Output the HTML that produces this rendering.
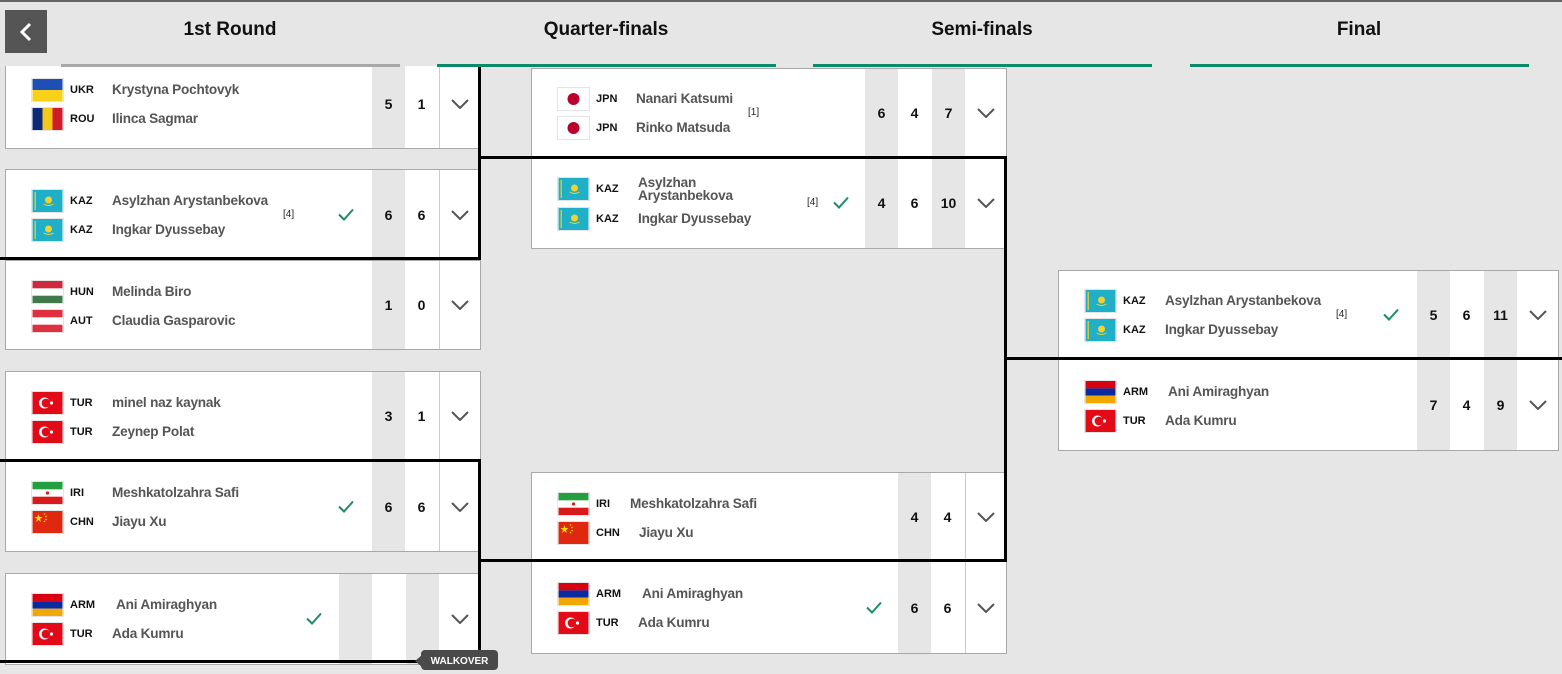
<!DOCTYPE html>
<html><head><meta charset="utf-8">
<style>
*{margin:0;padding:0;box-sizing:border-box}
body{width:1562px;height:665px;overflow:hidden;background:#e6e6e6;position:relative;font-family:"Liberation Sans",Arial,sans-serif}
.hdr{position:absolute;left:0;top:0;width:1562px;height:66px;background:#e6e6e6;border-top:2px solid #666;z-index:5}
.back{position:absolute;left:5px;top:8px;width:42px;height:43px;background:#555}
.t{position:absolute;top:17px;font-weight:bold;font-size:19px;color:#111;text-align:center;width:340px}
.bar{position:absolute;top:62px;height:3px;width:339px;background:#0b8a6c}
.card{position:absolute;background:#fff;border:1px solid #a8a8a8}
.r{position:absolute;left:0;height:22px;width:100%}
.f{position:absolute;left:26px;top:0;width:31px;height:22px;outline:1px solid #e4e4e4}
.c{position:absolute;left:64px;line-height:22px;font-size:11px;font-weight:bold;color:#111}
.n{position:absolute;left:106px;line-height:22px;font-size:13.6px;font-weight:bold;color:#555;letter-spacing:-0.2px;white-space:nowrap}
.s{position:absolute;top:0;bottom:0;width:33px;display:flex;align-items:center;justify-content:center;font-weight:bold;font-size:14px;color:#111}
.g{background:#e6e6e6}
.dv{position:absolute;top:0;bottom:0;width:1px;background:#ccc}
.ch{position:absolute;top:50%;margin-top:-5px;width:18px;height:10px}
.ck{position:absolute;top:50%;margin-top:-7px;width:16px;height:13px}
.sd{position:absolute;top:50%;margin-top:-7px;font-size:10px;color:#222;line-height:14px}
.h{position:absolute;background:#000;height:3px;z-index:3}
.v{position:absolute;background:#000;width:3px;z-index:3}
</style></head><body>

<svg width="0" height="0" style="position:absolute">
<defs>
<symbol id="ukr" viewBox="0 0 30 22"><rect width="30" height="11" fill="#1f4fb4"/><rect y="11" width="30" height="11" fill="#f7d117"/></symbol>
<symbol id="rou" viewBox="0 0 30 22"><rect width="10" height="22" fill="#0b2a7a"/><rect x="10" width="10" height="22" fill="#f6c61a"/><rect x="20" width="10" height="22" fill="#cf1b2b"/></symbol>
<symbol id="kaz" viewBox="0 0 30 22"><rect width="30" height="22" fill="#1fb0c8"/><rect x="2" y="2" width="1.5" height="18" fill="#d8c43a"/><circle cx="16" cy="10" r="3.5" fill="#f2d230"/><path d="M11 14 Q16 17 21 14" stroke="#f2d230" fill="none"/></symbol>
<symbol id="hun" viewBox="0 0 30 22"><rect width="30" height="7.4" fill="#cd2a3e"/><rect y="7.4" width="30" height="7.3" fill="#fff"/><rect y="14.7" width="30" height="7.3" fill="#3f7a4a"/></symbol>
<symbol id="aut" viewBox="0 0 30 22"><rect width="30" height="7.4" fill="#e0303f"/><rect y="7.4" width="30" height="7.3" fill="#fff"/><rect y="14.7" width="30" height="7.3" fill="#e0303f"/></symbol>
<symbol id="tur" viewBox="0 0 30 22"><rect width="30" height="22" fill="#e30a17"/><circle cx="12" cy="11" r="5.5" fill="#fff"/><circle cx="13.5" cy="11" r="4.4" fill="#e30a17"/><circle cx="19" cy="11" r="1.6" fill="#fff"/></symbol>
<symbol id="iri" viewBox="0 0 30 22"><rect width="30" height="7.4" fill="#239f40"/><rect y="7.4" width="30" height="7.3" fill="#fff"/><rect y="14.7" width="30" height="7.3" fill="#da1a1a"/><circle cx="15" cy="11" r="1.6" fill="#da1a1a"/></symbol>
<symbol id="chn" viewBox="0 0 30 22"><rect width="30" height="22" fill="#de2910"/><polygon points="6,3 7,6 10,6 7.5,8 8.5,11 6,9 3.5,11 4.5,8 2,6 5,6" fill="#ffde00"/><circle cx="12" cy="3" r=".8" fill="#ffde00"/><circle cx="13.5" cy="5.5" r=".8" fill="#ffde00"/><circle cx="13.5" cy="8.5" r=".8" fill="#ffde00"/><circle cx="12" cy="10.5" r=".8" fill="#ffde00"/></symbol>
<symbol id="arm" viewBox="0 0 30 22"><rect width="30" height="7.4" fill="#d90012"/><rect y="7.4" width="30" height="7.3" fill="#0a2aa0"/><rect y="14.7" width="30" height="7.3" fill="#f2a800"/></symbol>
<symbol id="jpn" viewBox="0 0 30 22"><rect width="30" height="22" fill="#fff"/><circle cx="15" cy="11" r="6" fill="#bc002d"/></symbol>
<symbol id="chev" viewBox="0 0 18 10"><polyline points="1,1 9,9 17,1" fill="none" stroke="#555" stroke-width="2"/></symbol>
<symbol id="chk" viewBox="0 0 16 13"><polyline points="1,6.5 6,11.5 15,1.5" fill="none" stroke="#1d8c6c" stroke-width="2"/></symbol>
</defs></svg>

<div class="hdr">
  <div class="back"><svg style="position:absolute;left:14px;top:12px" width="14" height="20" viewBox="0 0 14 20"><polyline points="11,2 3,10 11,18" fill="none" stroke="#fff" stroke-width="3"/></svg></div>
  <div class="t" style="left:60px">1st Round</div>
  <div class="t" style="left:436px">Quarter-finals</div>
  <div class="t" style="left:812px">Semi-finals</div>
  <div class="t" style="left:1189px">Final</div>
  <div class="bar" style="left:61px;background:#a8a8a8"></div>
  <div class="bar" style="left:437px"></div>
  <div class="bar" style="left:813px"></div>
  <div class="bar" style="left:1190px"></div>
</div>

<!-- Round 1 -->
<div class="card" style="left:5px;top:58px;width:476px;height:91px">
  <div class="r" style="top:20px"><svg class="f"><use href="#ukr"/></svg><b class="c">UKR</b><span class="n">Krystyna Pochtovyk</span></div>
  <div class="r" style="top:49px"><svg class="f"><use href="#rou"/></svg><b class="c">ROU</b><span class="n">Ilinca Sagmar</span></div>
  <div class="s g" style="left:366px">5</div><div class="s" style="left:399px">1</div><div class="dv" style="left:433px"></div>
  <svg class="ch" style="left:445px"><use href="#chev"/></svg>
</div>
<div class="card" style="left:5px;top:169px;width:476px;height:91px">
  <div class="r" style="top:20px"><svg class="f"><use href="#kaz"/></svg><b class="c">KAZ</b><span class="n">Asylzhan Arystanbekova</span></div>
  <div class="r" style="top:49px"><svg class="f"><use href="#kaz"/></svg><b class="c">KAZ</b><span class="n">Ingkar Dyussebay</span></div>
  <div class="sd" style="left:277px">[4]</div><svg class="ck" style="left:332px"><use href="#chk"/></svg>
  <div class="s g" style="left:366px">6</div><div class="s" style="left:399px">6</div><div class="dv" style="left:433px"></div>
  <svg class="ch" style="left:445px"><use href="#chev"/></svg>
</div>
<div class="card" style="left:5px;top:260px;width:476px;height:90px">
  <div class="r" style="top:20px"><svg class="f"><use href="#hun"/></svg><b class="c">HUN</b><span class="n">Melinda Biro</span></div>
  <div class="r" style="top:49px"><svg class="f"><use href="#aut"/></svg><b class="c">AUT</b><span class="n">Claudia Gasparovic</span></div>
  <div class="s g" style="left:366px">1</div><div class="s" style="left:399px">0</div><div class="dv" style="left:433px"></div>
  <svg class="ch" style="left:445px"><use href="#chev"/></svg>
</div>
<div class="card" style="left:5px;top:371px;width:476px;height:90px">
  <div class="r" style="top:20px"><svg class="f"><use href="#tur"/></svg><b class="c">TUR</b><span class="n">minel naz kaynak</span></div>
  <div class="r" style="top:49px"><svg class="f"><use href="#tur"/></svg><b class="c">TUR</b><span class="n">Zeynep Polat</span></div>
  <div class="s g" style="left:366px">3</div><div class="s" style="left:399px">1</div><div class="dv" style="left:433px"></div>
  <svg class="ch" style="left:445px"><use href="#chev"/></svg>
</div>
<div class="card" style="left:5px;top:461px;width:476px;height:91px">
  <div class="r" style="top:20px"><svg class="f"><use href="#iri"/></svg><b class="c">IRI</b><span class="n">Meshkatolzahra Safi</span></div>
  <div class="r" style="top:49px"><svg class="f"><use href="#chn"/></svg><b class="c">CHN</b><span class="n">Jiayu Xu</span></div>
  <svg class="ck" style="left:332px"><use href="#chk"/></svg>
  <div class="s g" style="left:366px">6</div><div class="s" style="left:399px">6</div><div class="dv" style="left:433px"></div>
  <svg class="ch" style="left:445px"><use href="#chev"/></svg>
</div>
<div class="card" style="left:5px;top:573px;width:476px;height:92px">
  <div class="r" style="top:20px"><svg class="f"><use href="#arm"/></svg><b class="c">ARM</b><span class="n" style="left:110px">Ani Amiraghyan</span></div>
  <div class="r" style="top:49px"><svg class="f"><use href="#tur"/></svg><b class="c">TUR</b><span class="n">Ada Kumru</span></div>
  <svg class="ck" style="left:300px"><use href="#chk"/></svg>
  <div class="s g" style="left:333px"></div><div class="s g" style="left:400px"></div>
  <svg class="ch" style="left:445px"><use href="#chev"/></svg>
</div>

<!-- Quarter-finals -->
<div class="card" style="left:531px;top:68px;width:476px;height:90px">
  <div class="r" style="top:19px"><svg class="f"><use href="#jpn"/></svg><b class="c">JPN</b><span class="n" style="left:104px">Nanari Katsumi</span></div>
  <div class="r" style="top:48px"><svg class="f"><use href="#jpn"/></svg><b class="c">JPN</b><span class="n" style="left:104px">Rinko Matsuda</span></div>
  <div class="sd" style="left:216px">[1]</div>
  <div class="s g" style="left:333px">6</div><div class="s" style="left:366px">4</div><div class="s g" style="left:400px">7</div>
  <svg class="ch" style="left:445px"><use href="#chev"/></svg>
</div>
<div class="card" style="left:531px;top:157px;width:476px;height:92px">
  <div class="r" style="top:20px"><svg class="f"><use href="#kaz"/></svg><b class="c">KAZ</b><span class="n" style="left:106px;line-height:13px;top:-2px">Asylzhan<br>Arystanbekova</span></div>
  <div class="r" style="top:50px"><svg class="f"><use href="#kaz"/></svg><b class="c">KAZ</b><span class="n">Ingkar Dyussebay</span></div>
  <div class="sd" style="left:275px">[4]</div><svg class="ck" style="left:301px"><use href="#chk"/></svg>
  <div class="s g" style="left:333px">4</div><div class="s" style="left:366px">6</div><div class="s g" style="left:400px">10</div>
  <svg class="ch" style="left:445px"><use href="#chev"/></svg>
</div>
<div class="card" style="left:531px;top:472px;width:476px;height:90px">
  <div class="r" style="top:20px"><svg class="f"><use href="#iri"/></svg><b class="c">IRI</b><span class="n" style="left:98px">Meshkatolzahra Safi</span></div>
  <div class="r" style="top:49px"><svg class="f"><use href="#chn"/></svg><b class="c">CHN</b><span class="n" style="left:107px">Jiayu Xu</span></div>
  <div class="s g" style="left:366px">4</div><div class="s" style="left:399px">4</div><div class="dv" style="left:433px"></div>
  <svg class="ch" style="left:445px"><use href="#chev"/></svg>
</div>
<div class="card" style="left:531px;top:561px;width:476px;height:93px">
  <div class="r" style="top:21px"><svg class="f"><use href="#arm"/></svg><b class="c">ARM</b><span class="n" style="left:110px">Ani Amiraghyan</span></div>
  <div class="r" style="top:50px"><svg class="f"><use href="#tur"/></svg><b class="c">TUR</b><span class="n">Ada Kumru</span></div>
  <svg class="ck" style="left:334px"><use href="#chk"/></svg>
  <div class="s g" style="left:366px">6</div><div class="s" style="left:399px">6</div><div class="dv" style="left:433px"></div>
  <svg class="ch" style="left:445px"><use href="#chev"/></svg>
</div>

<!-- Final -->
<div class="card" style="left:1058px;top:270px;width:501px;height:90px">
  <div class="r" style="top:19px"><svg class="f"><use href="#kaz"/></svg><b class="c">KAZ</b><span class="n">Asylzhan Arystanbekova</span></div>
  <div class="r" style="top:48px"><svg class="f"><use href="#kaz"/></svg><b class="c">KAZ</b><span class="n">Ingkar Dyussebay</span></div>
  <div class="sd" style="left:277px">[4]</div><svg class="ck" style="left:324px"><use href="#chk"/></svg>
  <div class="s g" style="left:358px">5</div><div class="s" style="left:391px">6</div><div class="s g" style="left:425px">11</div>
  <svg class="ch" style="left:470px"><use href="#chev"/></svg>
</div>
<div class="card" style="left:1058px;top:359px;width:501px;height:92px">
  <div class="r" style="top:21px"><svg class="f"><use href="#arm"/></svg><b class="c">ARM</b><span class="n" style="left:109px">Ani Amiraghyan</span></div>
  <div class="r" style="top:50px"><svg class="f"><use href="#tur"/></svg><b class="c">TUR</b><span class="n">Ada Kumru</span></div>
  <div class="s g" style="left:358px">7</div><div class="s" style="left:391px">4</div><div class="s g" style="left:425px">9</div>
  <svg class="ch" style="left:470px"><use href="#chev"/></svg>
</div>

<!-- connectors -->
<div class="h" style="left:0;top:257px;width:481px"></div>
<div class="v" style="left:478px;top:66px;height:194px"></div>
<div class="h" style="left:478px;top:156px;width:529px"></div>
<div class="v" style="left:1004px;top:156px;height:406px"></div>
<div class="h" style="left:478px;top:559px;width:529px"></div>
<div class="h" style="left:0;top:459px;width:481px"></div>
<div class="v" style="left:478px;top:459px;height:204px"></div>
<div class="h" style="left:0;top:660px;width:481px"></div>
<div class="h" style="left:1004px;top:357px;width:558px"></div>

<!-- walkover tooltip -->
<div style="position:absolute;left:421px;top:650px;width:77px;height:20px;background:#4a4a4a;border-radius:4px;z-index:6;color:#fff;font-weight:bold;font-size:10px;text-align:center;line-height:24px">WALKOVER</div>
<div style="position:absolute;left:415px;top:655px;width:0;height:0;border-top:6px solid transparent;border-bottom:6px solid transparent;border-right:7px solid #4a4a4a;z-index:6"></div>
</body></html>
